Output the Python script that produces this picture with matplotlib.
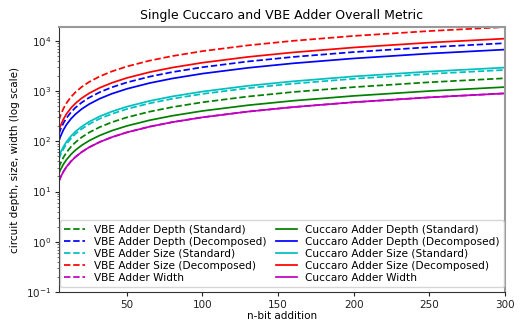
import matplotlib
matplotlib.use("Agg")
import matplotlib.pyplot as plt

# n-bit sizes sampled along the x axis
n_bits = [5, 6, 8, 10, 13, 16, 20, 25, 32, 40, 50, 65, 80, 100, 130, 160, 200, 250, 300]

# VBE adder (dashed)
vbe_depth_std = [30, 36, 48, 60, 78, 96, 120, 150, 192, 240, 300, 390, 480, 600, 780, 960, 1200, 1500, 1800]
vbe_depth_dec = [140, 170, 230, 290, 380, 470, 590, 740, 950, 1190, 1490, 1940, 2390, 2990, 3890, 4790, 5990, 7490, 8990]
vbe_size_std = [44, 53, 70, 88, 114, 141, 176, 220, 282, 352, 440, 572, 704, 880, 1144, 1408, 1760, 2200, 2640]
vbe_size_dec = [260, 323, 449, 575, 764, 953, 1205, 1520, 1961, 2465, 3095, 4040, 4985, 6245, 8135, 10025, 12545, 15695, 18845]
vbe_width = [16, 19, 25, 31, 40, 49, 61, 76, 97, 121, 151, 196, 241, 301, 391, 481, 601, 751, 901]

# Cuccaro adder (solid)
cuc_depth_std = [23, 27, 35, 43, 55, 67, 83, 103, 131, 163, 203, 263, 323, 403, 523, 643, 803, 1003, 1203]
cuc_depth_dec = [102, 124, 169, 214, 281, 348, 438, 550, 707, 886, 1110, 1446, 1782, 2230, 2902, 3574, 4470, 5590, 6710]
cuc_size_std = [49, 59, 78, 98, 127, 157, 196, 245, 314, 392, 490, 637, 784, 980, 1274, 1568, 1960, 2450, 2940]
cuc_size_dec = [165, 202, 276, 350, 461, 572, 720, 905, 1164, 1460, 1830, 2385, 2940, 3680, 4790, 5900, 7380, 9230, 11080]
cuc_width = [16, 19, 25, 31, 40, 49, 61, 76, 97, 121, 151, 196, 241, 301, 391, 481, 601, 751, 901]

green = (0, 0.5, 0)
blue = (0, 0, 1)
cyan = (0, 0.75, 0.75)
red = (1, 0, 0)
magenta = (0.75, 0, 0.75)

fig = plt.figure(figsize=(5.21, 3.22), dpi=100)
ax = fig.add_subplot(111)
fig.subplots_adjust(left=0.113, right=0.969, top=0.916, bottom=0.093)

lw = 1.25
ax.plot(n_bits, vbe_depth_std, '--', color=green, lw=lw, label='VBE Adder Depth (Standard)')
ax.plot(n_bits, vbe_depth_dec, '--', color=blue, lw=lw, label='VBE Adder Depth (Decomposed)')
ax.plot(n_bits, vbe_size_std, '--', color=cyan, lw=lw, label='VBE Adder Size (Standard)')
ax.plot(n_bits, vbe_size_dec, '--', color=red, lw=lw, label='VBE Adder Size (Decomposed)')
ax.plot(n_bits, vbe_width, '--', color=magenta, lw=lw, label='VBE Adder Width')
ax.plot(n_bits, cuc_depth_std, '-', color=green, lw=lw, label='Cuccaro Adder Depth (Standard)')
ax.plot(n_bits, cuc_depth_dec, '-', color=blue, lw=lw, label='Cuccaro Adder Depth (Decomposed)')
ax.plot(n_bits, cuc_size_std, '-', color=cyan, lw=lw, label='Cuccaro Adder Size (Standard)')
ax.plot(n_bits, cuc_size_dec, '-', color=red, lw=lw, label='Cuccaro Adder Size (Decomposed)')
ax.plot(n_bits, cuc_width, '-', color=magenta, lw=lw, label='Cuccaro Adder Width')

ax.set_yscale('log')
ax.set_xlim(n_bits[0], n_bits[-1])
ax.set_ylim(0.1, max(vbe_size_dec))
ax.set_xticks([50, 100, 150, 200, 250, 300])

for side in ['left', 'bottom']:
    ax.spines[side].set_color('#333333')
for side in ['top', 'right']:
    ax.spines[side].set_color('#999999')
    ax.spines[side].set_linewidth(1.5)
ax.tick_params(labelsize=7.5, colors='#222222', length=3, pad=2.5)
ax.tick_params(which='minor', colors='#555555', length=1.5)

ax.set_title('Single Cuccaro and VBE Adder Overall Metric', fontsize=9)
ax.set_xlabel('n-bit addition', fontsize=7.5, labelpad=1)
ax.set_ylabel('circuit depth, size, width (log scale)', fontsize=7.5)
leg = ax.legend(ncol=2, loc='lower center', fontsize=7.6, columnspacing=0.9,
                labelspacing=0.2, borderaxespad=0.45)
leg.get_frame().set_edgecolor('#cccccc')

fig.savefig('out.png', dpi=100)
